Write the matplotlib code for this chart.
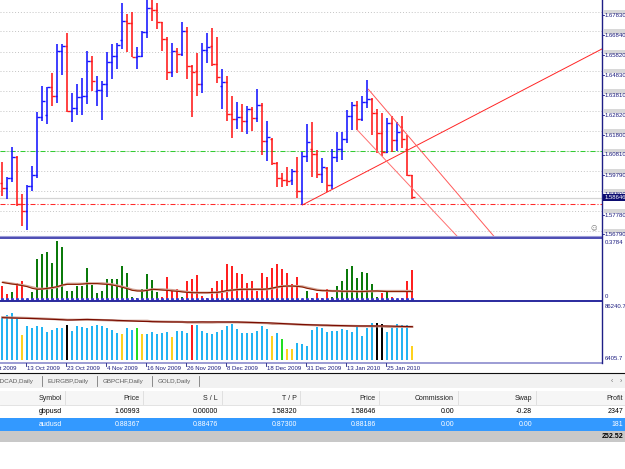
import matplotlib
matplotlib.use("Agg")
import matplotlib.pyplot as plt
import numpy as np
from matplotlib.transforms import blended_transform_factory, ScaledTranslation
from matplotlib.patches import Rectangle
from matplotlib.lines import Line2D

plt.rcParams['font.family'] = ['Liberation Sans', 'DejaVu Sans']

# ---------------- data ----------------
opens = [1.5936, 1.5914, 1.5965, 1.6067, 1.5832, 1.5797, 1.5923, 1.5978, 1.6269, 1.6280,
         1.6420, 1.6378, 1.6605, 1.6628, 1.6301, 1.6314, 1.6369, 1.6378, 1.6554, 1.6403,
         1.6406, 1.6435, 1.6549, 1.6579, 1.6658, 1.6756, 1.6742, 1.6574, 1.6577, 1.6697,
         1.6818, 1.6809, 1.6747, 1.6663, 1.6499, 1.6605, 1.6588, 1.6704, 1.6529, 1.6504,
         1.6437, 1.6608, 1.6628, 1.6536, 1.6427, 1.6445, 1.6284, 1.6260, 1.6272, 1.6252,
         1.6311, 1.6264, 1.6331, 1.6151, 1.6158, 1.6037, 1.5961, 1.5953, 1.5953, 1.6000,
         1.5899, 1.6074, 1.6107, 1.6082, 1.5983, 1.6012, 1.5928, 1.6067, 1.6109, 1.6158,
         1.6277, 1.6331, 1.6259, 1.6344, 1.6359, 1.6289, 1.6188, 1.6096, 1.6238, 1.6154,
         1.6220, 1.6109, 1.5978]
highs = [1.6045, 1.5970, 1.6121, 1.6074, 1.5881, 1.5928, 1.6023, 1.6297, 1.6427, 1.6420,
         1.6490, 1.6636, 1.6638, 1.6695, 1.6393, 1.6437, 1.6465, 1.6605, 1.6578, 1.6477,
         1.6452, 1.6596, 1.6636, 1.6641, 1.6843, 1.6788, 1.6798, 1.6621, 1.6705, 1.6877,
         1.6868, 1.6843, 1.6751, 1.6672, 1.6645, 1.6616, 1.6747, 1.6725, 1.6532, 1.6594,
         1.6645, 1.6692, 1.6720, 1.6675, 1.6512, 1.6477, 1.6376, 1.6344, 1.6336, 1.6326,
         1.6319, 1.6410, 1.6339, 1.6250, 1.6163, 1.6045, 1.5990, 1.6017, 1.6008, 1.6067,
         1.6096, 1.6235, 1.6243, 1.6104, 1.6062, 1.6017, 1.6109, 1.6193, 1.6193, 1.6306,
         1.6344, 1.6351, 1.6378, 1.6457, 1.6364, 1.6311, 1.6290, 1.6265, 1.6275, 1.6245,
         1.6275, 1.6180, 1.5980]
lows = [1.5872, 1.5856, 1.5945, 1.5824, 1.5723, 1.5701, 1.5898, 1.5961, 1.6252, 1.6235,
        1.6326, 1.6343, 1.6482, 1.6297, 1.6247, 1.6280, 1.6280, 1.6336, 1.6403, 1.6326,
        1.6255, 1.6369, 1.6462, 1.6512, 1.6613, 1.6599, 1.6571, 1.6512, 1.6571, 1.6667,
        1.6756, 1.6712, 1.6603, 1.6457, 1.6470, 1.6494, 1.6577, 1.6463, 1.6269, 1.6378,
        1.6390, 1.6541, 1.6527, 1.6440, 1.6309, 1.6252, 1.6166, 1.6210, 1.6193, 1.6185,
        1.6201, 1.6247, 1.6079, 1.6050, 1.6028, 1.5916, 1.5919, 1.5923, 1.5928, 1.5864,
        1.5827, 1.6045, 1.5966, 1.5961, 1.5936, 1.5894, 1.5908, 1.6045, 1.6054, 1.6138,
        1.6205, 1.6205, 1.6252, 1.6314, 1.6180, 1.6089, 1.6074, 1.6089, 1.6094, 1.6099,
        1.6114, 1.5973, 1.5857]
closes = [1.5914, 1.5965, 1.6067, 1.5832, 1.5797, 1.5923, 1.5978, 1.6269, 1.6353, 1.6420,
          1.6378, 1.6605, 1.6628, 1.6301, 1.6314, 1.6369, 1.6378, 1.6554, 1.6452, 1.6406,
          1.6435, 1.6549, 1.6579, 1.6633, 1.6756, 1.6742, 1.6574, 1.6577, 1.6697, 1.6818,
          1.6809, 1.6747, 1.6663, 1.6499, 1.6605, 1.6588, 1.6704, 1.6529, 1.6499, 1.6437,
          1.6608, 1.6625, 1.6536, 1.6470, 1.6445, 1.6284, 1.6260, 1.6272, 1.6252, 1.6311,
          1.6264, 1.6331, 1.6151, 1.6171, 1.6037, 1.5961, 1.5953, 1.5950, 1.6000, 1.5899,
          1.6074, 1.6143, 1.6082, 1.5983, 1.6017, 1.5928, 1.6067, 1.6109, 1.6158, 1.6277,
          1.6331, 1.6259, 1.6344, 1.6359, 1.6289, 1.6188, 1.6096, 1.6238, 1.6154, 1.6196,
          1.6160, 1.5978, 1.5865]

date_labels = ["1 Oct 2009", "13 Oct 2009", "23 Oct 2009", "4 Nov 2009", "16 Nov 2009",
               "26 Nov 2009", "8 Dec 2009", "18 Dec 2009", "31 Dec 2009", "13 Jan 2010",
               "25 Jan 2010"]
date_label_bars = [-3, 5, 13, 21, 29, 37, 45, 53, 61, 69, 77]

price_ticks = [1.67830, 1.66840, 1.65820, 1.64830, 1.63810, 1.62820, 1.61800,
               1.60810, 1.59790, 1.58800, 1.57780, 1.56790]
entry_price = 1.60993
tp_price = 1.58320
bid_price = 1.58646

trend_up_x, trend_up_y = [60, 120], [1.5827, 1.6614]
chan_upper_x, chan_upper_y = [73.2, 100.0], [1.6410, 1.5620]
chan_lower_x, chan_lower_y = [71.0, 93.0], [1.6205, 1.5615]

osc_vals = [0.086, 0.032, 0.048, 0.108, 0.119, 0.002, 0.048, 0.259, 0.292, 0.307,
            0.238, 0.378, 0.339, 0.054, 0.054, 0.086, 0.086, 0.201, 0.091, 0.043,
            0.054, 0.130, 0.130, 0.130, 0.216, 0.168, 0.015, 0.011, 0.065, 0.162,
            0.125, 0.050, 0.015, 0.145, 0.054, 0.065, 0.015, 0.119, 0.130, 0.158,
            0.022, 0.011, 0.076, 0.119, 0.125, 0.227, 0.216, 0.173, 0.162, 0.104,
            0.119, 0.054, 0.173, 0.145, 0.205, 0.227, 0.194, 0.168, 0.097, 0.147,
            0.002, 0.054, 0.011, 0.039, 0.011, 0.065, 0.015, 0.086, 0.119, 0.194,
            0.216, 0.136, 0.177, 0.173, 0.097, 0.015, 0.039, 0.058, 0.015, 0.002,
            0.011, 0.119, 0.188]
osc_colors = ("RRGRRGGGGG" "GGGGGGGGGG" "GGGGGGGGGG" "GGRRRRGRRR" "RRRRRRRRRR"
              "RRRRRRRRRR" "RGGRRRGGGG" "GGGGGGRGRR" "RRR")
osc_ma1 = [0.110, 0.104, 0.099, 0.095, 0.089, 0.082, 0.071, 0.065, 0.067, 0.071,
           0.076, 0.082, 0.093, 0.097, 0.097, 0.097, 0.099, 0.102, 0.102, 0.102,
           0.099, 0.097, 0.093, 0.086, 0.078, 0.069, 0.058, 0.054, 0.054, 0.058,
           0.065, 0.063, 0.060, 0.058, 0.054, 0.052, 0.048, 0.045, 0.043, 0.043,
           0.043, 0.043, 0.045, 0.045, 0.050, 0.058, 0.060, 0.063, 0.065, 0.065,
           0.065, 0.065, 0.065, 0.067, 0.073, 0.080, 0.084, 0.086, 0.086, 0.084,
           0.080, 0.071, 0.065, 0.058, 0.056, 0.056, 0.054, 0.054, 0.052, 0.052,
           0.052, 0.050, 0.050, 0.052, 0.054, 0.054, 0.052, 0.050, 0.050, 0.050,
           0.050, 0.050, 0.050]
osc_ma2 = [0.112, 0.107, 0.102, 0.097, 0.092, 0.086, 0.078, 0.070, 0.068, 0.070,
           0.074, 0.080, 0.090, 0.101, 0.101, 0.101, 0.101, 0.104, 0.104, 0.104,
           0.104, 0.101, 0.097, 0.090, 0.082, 0.073, 0.063, 0.058, 0.056, 0.060,
           0.065, 0.065, 0.065, 0.062, 0.060, 0.056, 0.052, 0.048, 0.045, 0.043,
           0.043, 0.043, 0.043, 0.045, 0.048, 0.054, 0.060, 0.063, 0.065, 0.065,
           0.065, 0.065, 0.065, 0.065, 0.071, 0.078, 0.086, 0.086, 0.086, 0.086,
           0.084, 0.076, 0.069, 0.062, 0.058, 0.056, 0.054, 0.054, 0.052, 0.052,
           0.052, 0.052, 0.052, 0.052, 0.052, 0.054, 0.054, 0.054, 0.054, 0.054,
           0.054, 0.054, 0.054]
osc_labels = ["0.3784", "0"]

vol_vals = [60800, 64700, 68000, 59400, 35500, 48900, 46500, 48900, 47400, 40200,
            42600, 46500, 45500, 50300, 41700, 48900, 47400, 45500, 48900, 50300,
            48900, 45500, 43100, 38300, 36900, 45500, 42600, 46500, 36900, 37800,
            40700, 37800, 39300, 40200, 33100, 41700, 41700, 38300, 49800, 49800,
            41700, 39300, 36900, 40200, 42600, 48900, 51300, 44100, 39300, 39300,
            39300, 41700, 48900, 44100, 34500, 38300, 29700, 15300, 15300, 24000,
            23500, 20100, 43100, 47400, 45500, 40200, 41700, 41700, 44100, 43100,
            40700, 47400, 34500, 45500, 52700, 52700, 51300, 40200, 48900, 51300,
            49800, 49800, 20100]
vol_colors = ("BBBBYBBBBB" "BBBKBBBBBB" "BBBBYBBGYB" "BBBBYBBBRB" "BBBBBBBBBB"
              "BBBBYBGYYB" "BBBBBBBBBB" "BBBBBKKBBB" "BBY")
vol_ma1 = [60800, 60600, 60400, 60200, 60000, 59800, 59600,
           59400, 59100, 58800, 58500, 58200, 57900,
           57500, 57600, 57900, 58200,
           58400, 58100, 57900, 57600, 57400, 57200,
           57000, 56700, 56400, 56100, 55800, 55500, 55300,
           55100, 55000, 54900, 54800, 54700, 54700, 54600,
           54600, 54600, 54700, 54800, 54700, 54700, 54700, 54600, 54600, 54600,
           54600, 54400, 54200, 54000, 53800, 53600, 53400,
           53200, 52800, 52400, 52000, 51600,
           51300, 51000, 50800, 50500,
           50300, 50100, 50000,
           49800, 49600, 49400, 49200, 49000,
           48900, 48900, 48900, 48900, 48900, 48900,
           48900, 48700, 48500, 48300, 48100, 47900]
vol_ma2 = [61500, 61300, 61000, 60800, 60600, 60400, 60100,
           59800, 59500, 59200, 58900, 58600, 58300,
           57800, 57800, 57800, 57800,
           57800, 57800, 57600, 57400, 57200, 57000,
           56300, 56300, 56300, 56300, 56300, 56300, 56300,
           55500, 55300, 55100, 55000, 54900, 54800, 54700,
           53900, 53900, 53900, 53900, 53900, 53900, 54200, 54300, 54300, 54300,
           54200, 54000, 53800, 53600, 53400, 53200, 53000,
           52000, 52000, 52000, 51800, 51500,
           51000, 50700, 50400, 50200,
           50000, 49800, 49600,
           49200, 49200, 49200, 49100, 49000,
           48800, 48700, 48600, 48500, 48400, 48300,
           47700, 47700, 47700, 47700, 47700, 47700]
vol_labels = ["86240.7", "6405.7"]

tabs = ["USDCAD,Daily", "EURGBP,Daily", "GBPCHF,Daily", "GOLD,Daily"]
headers = ["Symbol", "Price", "S / L", "T / P", "Price", "Commission", "Swap", "Profit"]
row_gbpusd = ["gbpusd", "1.60993", "0.00000", "1.58320", "1.58646", "0.00", "-0.28", "2347"]
row_audusd = ["audusd", "0.88367", "0.88476", "0.87300", "0.88186", "0.00", "0.00", "181"]
total_profit = "252.52"

# ---------------- layout ----------------
W, H = 625, 469
fig = plt.figure(figsize=(W / 100, H / 100), dpi=100)
fig.patch.set_facecolor('white')


def px_axes(x0, y0, x1, y1):
    return fig.add_axes([x0 / W, 1 - y1 / H, (x1 - x0) / W, (y1 - y0) / H])


XLIM = (-0.46, 119.94)
ax_main = px_axes(0, 0, 602, 236)
ax_osc = px_axes(0, 238, 602, 300)
ax_vol = px_axes(0, 301, 602, 362)
for a in (ax_main, ax_osc, ax_vol):
    a.set_xlim(*XLIM)
    a.axis('off')
ax_main.set_ylim(1.56708, 1.68597)
ax_osc.set_ylim(-0.0045, 0.398)
ax_vol.set_ylim(-2875, 84803)

ov = px_axes(0, 0, W, H)
ov.set_xlim(0, W)
ov.set_ylim(H, 0)
ov.axis('off')
ov.set_zorder(10)

NAVY = '#1c1c80'

# ---------------- main price chart ----------------
grid_tr = ax_main.transData + ScaledTranslation(0, 3.6 / 100, fig.dpi_scale_trans)
for v in price_ticks:
    ax_main.plot(XLIM, [v, v], transform=grid_tr, color='#c4c4c4', lw=0.7,
                 ls=(0, (1, 2)), zorder=1)

x = np.arange(len(opens))
o = np.array(opens); c = np.array(closes)
bar_cols = np.where(c >= o, '#1414ff', '#ff1818')
ax_main.vlines(x, lows, highs, colors=bar_cols, lw=1.15, zorder=3)
ax_main.hlines(opens, x - 0.45, x, colors=bar_cols, lw=1.0, zorder=3)
ax_main.hlines(closes, x, x + 0.45, colors=bar_cols, lw=1.0, zorder=3)

ax_main.axhline(bid_price, color='#d4d4d4', lw=0.9, zorder=2)
ax_main.axhline(entry_price, color='#33cc33', lw=0.75, ls=(0, (4.8, 1.9, 1.0, 1.9)), zorder=2)
ax_main.axhline(tp_price, color='#ff2a2a', lw=0.75, ls=(0, (4.8, 1.9, 1.0, 1.9)), zorder=2)

ax_main.plot(trend_up_x, trend_up_y, color='#ff2424', lw=0.7, zorder=4)
ax_main.plot(chan_upper_x, chan_upper_y, color='#ff5a5a', lw=0.7, zorder=4)
ax_main.plot(chan_lower_x, chan_lower_y, color='#ff7070', lw=0.7, zorder=4)


def ypx(ax, v):
    return H - ax.transData.transform((0, v))[1]


for v in price_ticks:
    yy = ypx(ax_main, v)
    ov.add_patch(Rectangle((603.5, yy - 5.6), 23, 4.3, fc='#d8d8d8', ec='none'))
    ov.plot([602, 604], [yy, yy], color=NAVY, lw=0.6)
    ov.text(604.6, yy + 0.4, f"{v:.5f}", fontsize=4.3, color=NAVY, va='center', ha='left')

yb = ypx(ax_main, bid_price)
ov.add_patch(Rectangle((602.5, yb - 3.7), 23, 7.2, fc='#0c0c70', ec='none', zorder=5))
ov.text(604.6, yb + 0.2, f"{bid_price:.5f}", fontsize=4.3, color='white', va='center',
        ha='left', zorder=6)

ov.text(594, 228.5, '\u263a', family='DejaVu Sans', fontsize=4.5, color='#707070',
        ha='center', va='center')

# ---------------- oscillator panel ----------------
osc_map = {'G': '#0b7a0b', 'R': '#ff2020'}
ax_osc.bar(x, osc_vals, width=0.42, color=[osc_map[k] for k in osc_colors], zorder=2)
ax_osc.plot(x, osc_ma2, color='#d2a496', lw=1.6, zorder=3, solid_capstyle='butt')
ax_osc.plot(x, osc_ma1, color='#8a1c00', lw=0.8, zorder=4)
ax_osc.plot(x, np.zeros(len(x)), ls='none', marker='s', ms=1.1, color='#3a3ad0', zorder=5)
ov.text(604.6, 242, osc_labels[0], fontsize=4.3, color=NAVY, va='center', ha='left')
ov.text(604.6, 296, osc_labels[1], fontsize=4.3, color=NAVY, va='center', ha='left')

# ---------------- volume panel ----------------
vol_map = {'B': '#22b4f2', 'Y': '#ffd21c', 'G': '#22dd22', 'K': '#000000', 'R': '#ff1c1c'}
ax_vol.bar(x, vol_vals, width=0.45, color=[vol_map[k] for k in vol_colors], zorder=2)
ax_vol.plot(x, vol_ma2, color='#c99a8c', lw=1.6, zorder=3)
ax_vol.plot(x, vol_ma1, color='#7a0c00', lw=0.85, zorder=4)
ov.text(604.6, 306, vol_labels[0], fontsize=4.3, color=NAVY, va='center', ha='left')
ov.text(604.6, 358, vol_labels[1], fontsize=4.3, color=NAVY, va='center', ha='left')

# ---------------- frame lines ----------------
ov.plot([0, 602], [236.2, 236.2], color='#9c9cd8', lw=0.8)
ov.plot([0, 602], [237.6, 237.6], color='#2e2ea6', lw=1.2)
ov.plot([0, 602], [300.6, 300.6], color='#2a2a9e', lw=1.4)
ov.plot([0, 602], [362.6, 362.6], color='#9c9cd4', lw=1.4)
ov.plot([602, 602], [0, 363], color='#1e1e86', lw=1.0)

# ---------------- date axis ----------------
blend = blended_transform_factory(ax_vol.transData, ov.transData)
for k, lab in zip(date_label_bars, date_labels):
    ov.add_line(Line2D([k - 0.25, k - 0.25], [362.8, 366], transform=blend, color=NAVY, lw=0.6))
    ov.text(k - 0.05, 368.6, lab, transform=blend, fontsize=4.3, color=NAVY,
            va='center', ha='left', clip_on=False)

# ---------------- tab bar ----------------
ov.plot([0, W], [373.2, 373.2], color='#101010', lw=0.8)
ov.add_patch(Rectangle((0, 373.8), W, 14.5, fc='#f1f1f1', ec='none'))
tab_text_x = [33, 48, 103, 158]
tab_align = ['right', 'left', 'left', 'left']
for tx, ta, t in zip(tab_text_x, tab_align, tabs):
    ov.text(tx, 381.2, t, fontsize=4.5, color='#5a5a5a', ha=ta, va='center')
for sx in [42, 97, 152, 199]:
    ov.plot([sx, sx], [376.5, 386], color='#7a7a7a', lw=0.6)
ov.text(612, 382, '\u2039', fontsize=5, color='#707070', ha='center', va='center')
ov.text(621, 382, '\u203a', fontsize=5, color='#707070', ha='center', va='center')

# ---------------- terminal table ----------------
ov.add_patch(Rectangle((0, 390.8), W, 14.2, fc='#f6f6f6', ec='none'))
ov.plot([0, W], [405, 405], color='#dedede', lw=0.6)
for sx in [65, 143, 222, 300, 379, 458, 536]:
    ov.plot([sx, sx], [391.5, 404.5], color='#dcdcdc', lw=0.6)
col_right = [62, 140, 218, 297, 376, 454, 532, 623]
for cx, t in zip(col_right, headers):
    ov.text(cx, 398, t, fontsize=5, color='#202020', ha='right', va='center')
for cx, t in zip(col_right, row_gbpusd):
    ov.text(cx, 411.6, t, fontsize=5, color='#000000', ha='right', va='center')
ov.add_patch(Rectangle((0, 418), W, 12.6, fc='#3399ff', ec='none'))
for cx, t in zip(col_right, row_audusd):
    ov.text(cx, 424.3, t, fontsize=5, color='white', ha='right', va='center')
ov.add_patch(Rectangle((0, 430.6), W, 11.4, fc='#c8c8c8', ec='none'))
ov.text(623, 436.4, total_profit, fontsize=5, color='#000000', ha='right', va='center',
        fontweight='bold')

fig.savefig('out.png', dpi=100, facecolor='white')
